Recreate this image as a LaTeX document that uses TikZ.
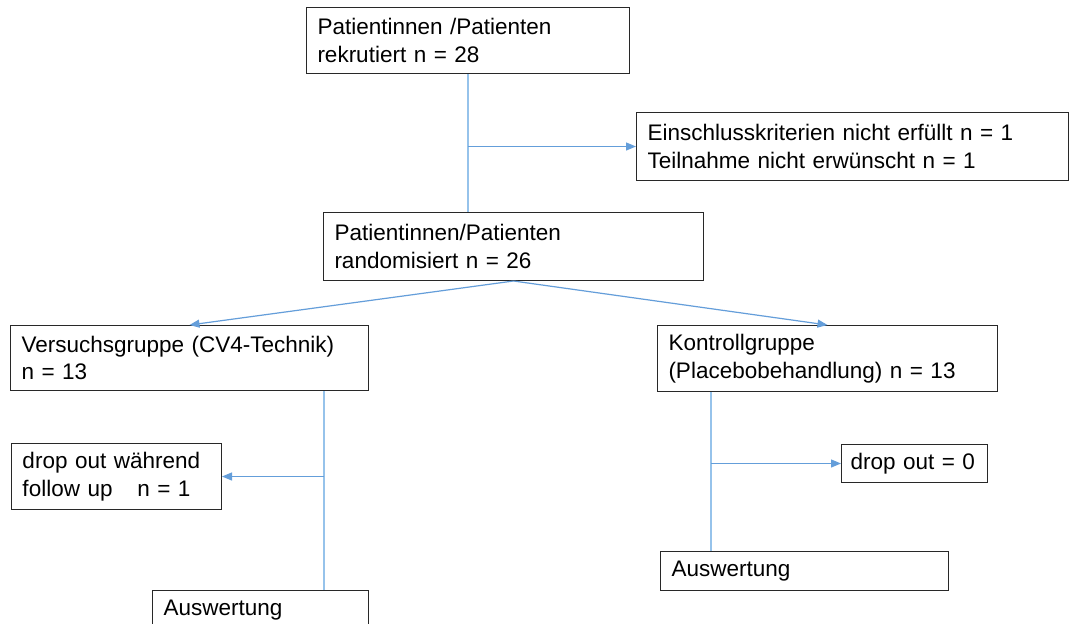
\documentclass[tikz,border=0pt]{standalone}
\usepackage{fontspec}
\setmainfont{Liberation Sans}
\usetikzlibrary{arrows.meta}
\definecolor{linkblue}{RGB}{100,158,218}
\definecolor{trunkblue}{RGB}{150,195,235}
\definecolor{boxline}{RGB}{40,40,40}
\begin{document}
\begin{tikzpicture}[x=1pt,y=-1pt,
  box/.style={draw=boxline,line width=1pt,anchor=north west,align=left,
    inner xsep=11pt,inner ysep=0pt,
    font=\fontsize{22.5}{27.5}\selectfont},
  trunk/.style={draw=trunkblue,line width=1.4pt},
  arr/.style={draw=linkblue,line width=1.2pt,-{Triangle[length=10pt,width=8pt]}}]
\useasboundingbox[fill=white] (0,0) rectangle (1069,624);

% boxes
\node[box,minimum height=66pt,text width=301pt] (rek) at (306,7)
  {Patientinnen /Patienten\\rekrutiert n = 28};
\node[box,minimum height=68pt,text width=410pt] (ein) at (636,112)
  {Einschlusskriterien nicht erfüllt n = 1\\Teilnahme nicht erwünscht n = 1};
\node[box,minimum height=68pt,text width=358pt] (rand) at (323,212)
  {Patientinnen/Patienten\\randomisiert n = 26};
\node[box,minimum height=65pt,text width=336pt] (vers) at (10,325)
  {Versuchsgruppe (CV4-Technik)\\n = 13};
\node[box,minimum height=66pt,text width=318pt] (kont) at (657,325)
  {Kontrollgruppe\\(Placebobehandlung) n = 13};
\node[box,minimum height=66pt,text width=188pt] (dropL) at (11,443)
  {drop out während\\follow up\hspace{1.1em}n = 1};
\node[box,minimum height=38pt,inner xsep=9pt,text width=128pt] (dropR) at (841,444)
  {drop out = 0};
\node[box,minimum height=39pt,text width=266pt] (ausR) at (660,551)
  {Auswertung};
\node[box,minimum height=39pt,text width=194pt] (ausL) at (152,590)
  {Auswertung};

% trunk positions of the vertical lines
\coordinate (vx) at (324,0);
\coordinate (rx) at (711,0);

% connectors
\draw[trunk] (rek.south) -- (rek.south |- rand.north);
\draw[arr] (rek.south |- ein.west) -- (ein.west);
\draw[arr] (rand.south) -- (vers.north);
\draw[arr] (rand.south) -- (kont.north);
\draw[trunk] (vers.south -| vx) -- (ausL.north -| vx);
\draw[arr] (vx |- dropL.east) -- (dropL.east);
\draw[trunk] (kont.south -| rx) -- (ausR.north -| rx);
\draw[arr] (rx |- dropR.west) -- (dropR.west);
\end{tikzpicture}
\end{document}
